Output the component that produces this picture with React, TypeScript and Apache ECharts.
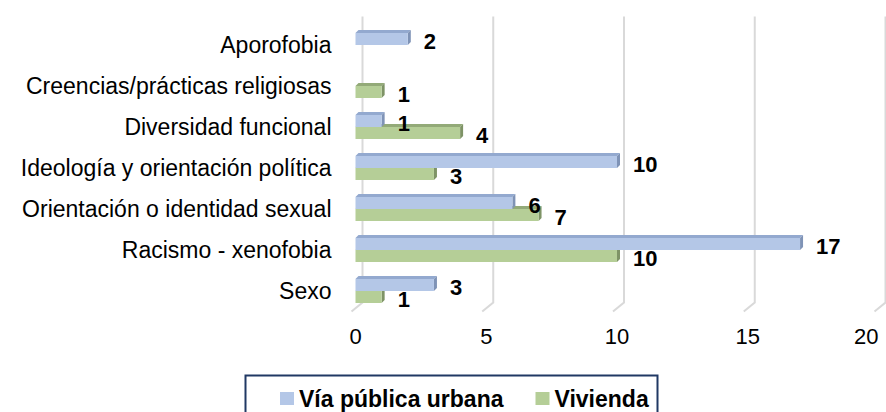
import React, { useEffect, useRef } from "react";
import * as echarts from "echarts";

const categories = [
  "Aporofobia",
  "Creencias/prácticas religiosas",
  "Diversidad funcional",
  "Ideología y orientación política",
  "Orientación o identidad sexual",
  "Racismo - xenofobia",
  "Sexo",
];
const viaPublica: (number | null)[] = [2, null, 1, 10, 6, 17, 3];
const vivienda: (number | null)[] = [null, 1, 4, 3, 7, 10, 1];
const xTicks = [0, 5, 10, 15, 20];
const seriesNames = ["Vía pública urbana", "Vivienda"];

const FONT = "'Liberation Sans', Arial, sans-serif";

const palette = [
  { front: "#B4C7E7", top: "#93A9CF", side: "#7F93B6" },
  { front: "#B5CE97", top: "#93AA78", side: "#7E9366" },
];

function makeBarRender(idx: number) {
  return (params: any, api: any) => {
    const v = api.value(0);
    const cat = api.value(1);
    if (!v || isNaN(v)) return null;
    const p0 = api.coord([0, cat]);
    const p1 = api.coord([v, cat]);
    const x0 = p0[0];
    const x1 = p1[0];
    const c = p0[1];
    const h = 12;
    const d = 3;
    const y0 = idx === 0 ? c - h : c;
    const col = palette[idx];
    return {
      type: "group",
      children: [
        {
          type: "polygon",
          shape: { points: [[x0, y0], [x0 + d, y0 - d], [x1 + d, y0 - d], [x1, y0]] },
          style: { fill: col.top },
        },
        {
          type: "polygon",
          shape: { points: [[x1, y0], [x1 + d, y0 - d], [x1 + d, y0 + h - d], [x1, y0 + h]] },
          style: { fill: col.side },
        },
        {
          type: "rect",
          shape: { x: x0, y: y0, width: x1 - x0, height: h },
          style: { fill: col.front },
        },
        {
          type: "text",
          x: x1 + 16,
          y: y0 + h / 2 + 2,
          style: {
            text: String(v),
            font: `bold 22px ${FONT}`,
            fill: "#000",
            verticalAlign: "middle",
            align: "left",
          },
        },
      ],
    };
  };
}

function wallRender(params: any, api: any) {
  const v = api.value(0);
  const cs = params.coordSys;
  const x = api.coord([v, 0])[0];
  const top = cs.y - 8;
  const bend = cs.y + cs.height - 9;
  const bottom = cs.y + cs.height;
  return {
    type: "polyline",
    shape: { points: [[x + 7, top], [x + 7, bend], [x - 4, bottom]] },
    style: { stroke: "#D9D9D9", lineWidth: 2, fill: "none" },
  };
}

export default function App() {
  const ref = useRef<HTMLDivElement>(null);
  useEffect(() => {
    if (!ref.current) return;
    const chart = echarts.init(ref.current, null, { renderer: "svg" });
    const toData = (arr: (number | null)[]) => arr.map((v, i) => [v, i]);
    chart.setOption({
      animation: false,
      backgroundColor: "#fff",
      grid: { left: 355.5, right: 7.5, top: 24.5, bottom: 100.5, containLabel: false },
      xAxis: {
        type: "value",
        min: 0,
        max: 20,
        interval: 5,
        axisLine: { show: false },
        axisTick: { show: false },
        splitLine: { show: false },
        axisLabel: {
          fontSize: 22,
          fontFamily: FONT,
          color: "#000",
          margin: 14,
          alignMaxLabel: "right",
        },
      },
      yAxis: {
        type: "category",
        data: categories,
        inverse: true,
        axisLine: { show: false },
        axisTick: { show: false },
        splitLine: { show: false },
        axisLabel: { fontSize: 23, fontFamily: FONT, color: "#000", margin: 24 },
      },
      legend: {
        data: seriesNames,
        left: 275,
        top: 382,
        icon: "rect",
        itemWidth: 14,
        itemHeight: 13,
        itemGap: 32,
        textStyle: { fontSize: 23, fontWeight: "bold", fontFamily: FONT, color: "#000" },
      },
      graphic: [
        {
          type: "rect",
          left: 243,
          top: 373,
          shape: { width: 412, height: 50 },
          style: { fill: "none", stroke: "#203864", lineWidth: 2 },
          silent: true,
        },
      ],
      series: [
        {
          type: "custom",
          name: "walls",
          renderItem: wallRender,
          data: xTicks.map((t) => [t, 0]),
          encode: { x: 0, y: 1 },
          clip: false,
          silent: true,
          z: 1,
        },
        {
          type: "custom",
          name: seriesNames[1],
          renderItem: makeBarRender(1),
          data: toData(vivienda),
          encode: { x: 0, y: 1 },
          itemStyle: { color: palette[1].front },
          clip: false,
          z: 2,
        },
        {
          type: "custom",
          name: seriesNames[0],
          renderItem: makeBarRender(0),
          data: toData(viaPublica),
          encode: { x: 0, y: 1 },
          itemStyle: { color: palette[0].front },
          clip: false,
          z: 3,
        },
      ],
    });
    return () => chart.dispose();
  }, []);
  return (
    <div
      ref={ref}
      style={{ position: "fixed", left: 0, top: 0, width: 886, height: 412, background: "#fff" }}
    />
  );
}
